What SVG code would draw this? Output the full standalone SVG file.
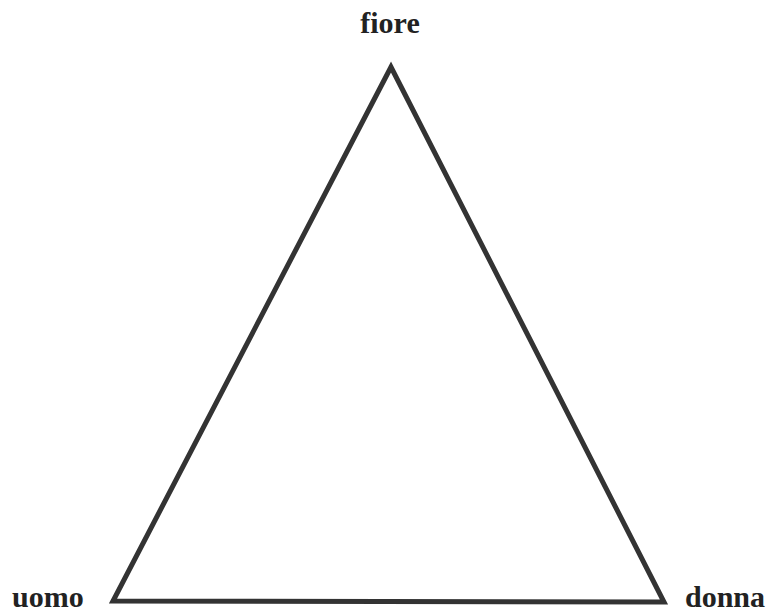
<svg xmlns="http://www.w3.org/2000/svg" width="772" height="616" viewBox="0 0 772 616">
<style>
.lbl{font-family:"Liberation Serif","Times New Roman",serif;font-weight:bold;font-size:30px;fill:#222}
.edge{fill:none;stroke:#333;stroke-width:5;stroke-linejoin:miter}
</style>
<rect width="772" height="616" fill="#fff"/>
<g id="connectors">
<polygon class="edge" points="391,67 113,601 664,602"/>
</g>
<g id="fiore"><text class="lbl" x="390" y="33" text-anchor="middle">fiore</text></g>
<g id="uomo"><text class="lbl" x="12" y="607">uomo</text></g>
<g id="donna"><text class="lbl" x="685" y="607">donna</text></g>
</svg>
